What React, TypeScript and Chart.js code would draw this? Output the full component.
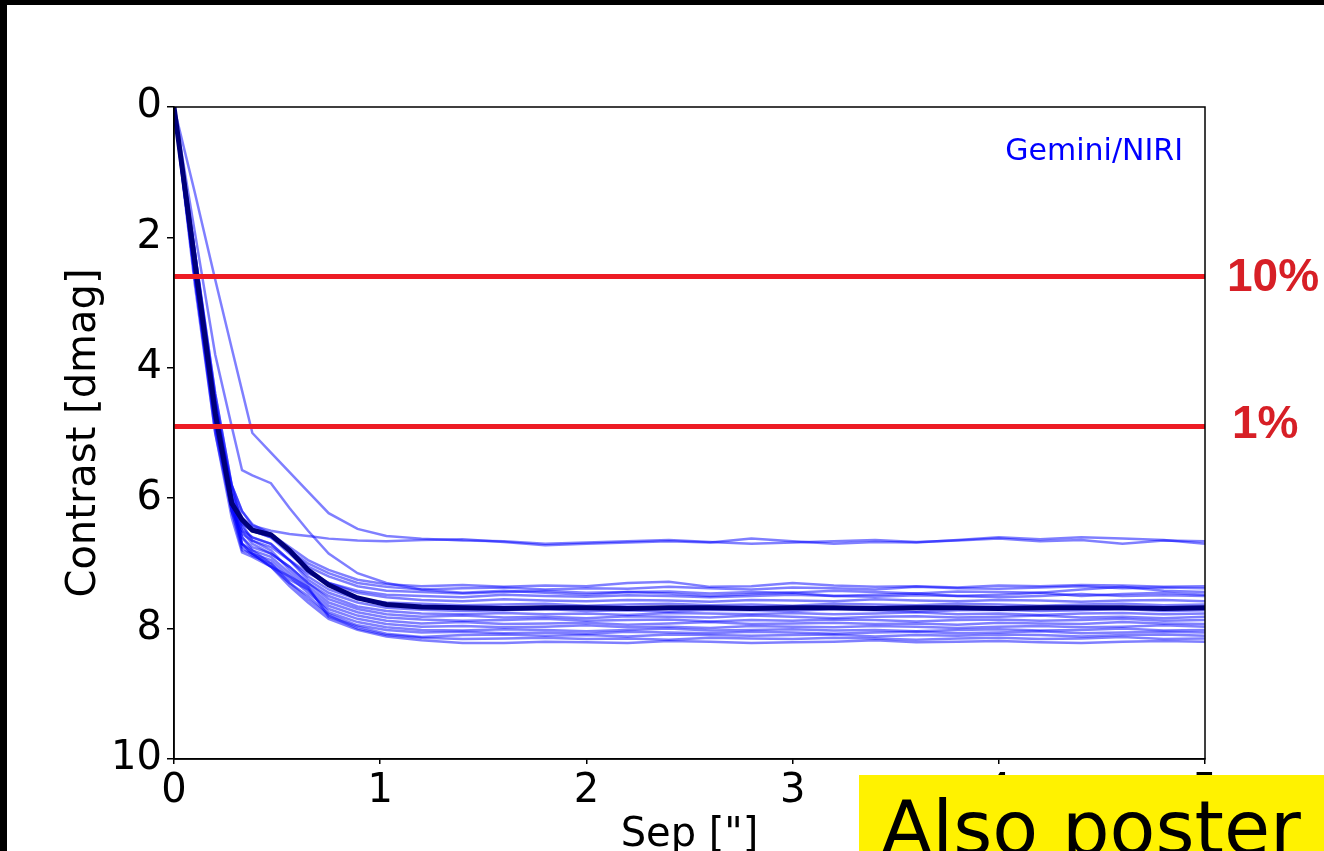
import { useEffect, useRef } from "react";
import { Chart, registerables } from "chart.js";

Chart.register(...registerables);

// Separation grid ["]
const SEP = [
  0, 0.1, 0.2, 0.28, 0.33, 0.38, 0.47, 0.56, 0.65, 0.75, 0.89, 1.03,
  1.2, 1.4, 1.6, 1.8, 2.0, 2.2, 2.4, 2.6, 2.8, 3.0,
  3.2, 3.4, 3.6, 3.8, 4.0, 4.2, 4.4, 4.6, 4.8, 5.0,
];

// Individual contrast curves [dmag]
const CURVE_SLOW = [
  0, 1.3, 2.65, 3.7, 4.35, 5.0, 5.3, 5.6, 5.9, 6.23, 6.47, 6.58,
  6.62, 6.65, 6.66, 6.7, 6.68, 6.66, 6.64, 6.67, 6.7, 6.68,
  6.66, 6.64, 6.67, 6.65, 6.62, 6.66, 6.64, 6.7, 6.65, 6.66,
];
const CURVE_FLAT = [
  0, 2.4, 4.7, 5.8, 6.2, 6.42, 6.5, 6.55, 6.58, 6.62, 6.65, 6.66,
  6.64, 6.63, 6.67, 6.72, 6.7, 6.68, 6.66, 6.68, 6.62, 6.66,
  6.7, 6.67, 6.68, 6.64, 6.6, 6.63, 6.6, 6.62, 6.64, 6.7,
];
const CURVE_KINK = [
  0, 1.9, 3.8, 4.9, 5.57, 5.65, 5.77, 6.15, 6.5, 6.85, 7.15, 7.3,
  7.4, 7.45, 7.42, 7.45, 7.48, 7.44, 7.46, 7.5, 7.47, 7.45,
  7.5, 7.48, 7.46, 7.5, 7.48, 7.45, 7.5, 7.47, 7.45, 7.48,
];
const CURVE_B01 = [
  0, 2.2, 4.4, 5.8, 6.2, 6.4, 6.55, 6.75, 6.95, 7.1, 7.25, 7.32,
  7.35, 7.33, 7.36, 7.34, 7.35, 7.3, 7.28, 7.36, 7.35, 7.3,
  7.34, 7.36, 7.35, 7.37, 7.34, 7.35, 7.33, 7.34, 7.36, 7.35,
];
const CURVE_B02 = [
  0, 2.5, 4.8, 6.0, 6.4, 6.5, 6.6, 6.8, 7.0, 7.15, 7.3, 7.36,
  7.4, 7.38, 7.37, 7.4, 7.38, 7.39, 7.36, 7.38, 7.4, 7.37,
  7.38, 7.4, 7.36, 7.38, 7.39, 7.37, 7.35, 7.38, 7.37, 7.38,
];
const CURVE_B03 = [
  0, 2.3, 4.6, 5.9, 6.3, 6.45, 6.55, 6.8, 7.05, 7.2, 7.35, 7.42,
  7.44, 7.46, 7.44, 7.42, 7.45, 7.44, 7.43, 7.46, 7.44, 7.45,
  7.42, 7.44, 7.46, 7.43, 7.44, 7.45, 7.4, 7.36, 7.42, 7.44,
];
const CURVE_B04 = [
  0, 2.6, 4.9, 6.1, 6.5, 6.6, 6.7, 6.95, 7.15, 7.3, 7.42, 7.48,
  7.5, 7.52, 7.48, 7.5, 7.51, 7.49, 7.5, 7.52, 7.5, 7.48,
  7.5, 7.51, 7.49, 7.5, 7.52, 7.5, 7.47, 7.5, 7.49, 7.5,
];
const CURVE_B05 = [
  0, 2.2, 4.5, 5.9, 6.35, 6.5, 6.6, 6.85, 7.1, 7.3, 7.45, 7.52,
  7.56, 7.58, 7.55, 7.57, 7.58, 7.56, 7.57, 7.59, 7.56, 7.57,
  7.58, 7.55, 7.57, 7.58, 7.56, 7.57, 7.59, 7.57, 7.56, 7.58,
];
const CURVE_B06 = [
  0, 2.7, 5.0, 6.2, 6.55, 6.65, 6.75, 6.95, 7.2, 7.4, 7.55, 7.6,
  7.62, 7.64, 7.63, 7.62, 7.65, 7.63, 7.62, 7.64, 7.63, 7.65,
  7.62, 7.63, 7.64, 7.62, 7.63, 7.65, 7.63, 7.62, 7.64, 7.63,
];
const CURVE_B07 = [
  0, 2.4, 4.7, 6.0, 6.45, 6.6, 6.7, 6.95, 7.25, 7.45, 7.6, 7.68,
  7.71, 7.73, 7.72, 7.7, 7.73, 7.72, 7.74, 7.71, 7.72, 7.73,
  7.7, 7.72, 7.74, 7.72, 7.71, 7.73, 7.72, 7.7, 7.73, 7.72,
];
const CURVE_B08 = [
  0, 2.3, 4.6, 6.0, 6.5, 6.7, 6.85, 7.05, 7.3, 7.5, 7.66, 7.73,
  7.77, 7.78, 7.76, 7.78, 7.77, 7.79, 7.76, 7.77, 7.78, 7.76,
  7.78, 7.77, 7.75, 7.78, 7.77, 7.79, 7.77, 7.76, 7.78, 7.77,
];
const CURVE_B09 = [
  0, 2.5, 4.8, 6.1, 6.6, 6.75, 6.85, 7.05, 7.3, 7.55, 7.7, 7.78,
  7.82, 7.8, 7.83, 7.82, 7.84, 7.81, 7.82, 7.83, 7.8, 7.82,
  7.84, 7.82, 7.81, 7.83, 7.82, 7.8, 7.83, 7.82, 7.84, 7.82,
];
const CURVE_B10 = [
  0, 2.2, 4.4, 5.8, 6.4, 6.65, 6.8, 7.1, 7.35, 7.6, 7.75, 7.83,
  7.86, 7.88, 7.87, 7.85, 7.88, 7.87, 7.86, 7.89, 7.87, 7.88,
  7.86, 7.87, 7.89, 7.87, 7.86, 7.88, 7.87, 7.85, 7.88, 7.87,
];
const CURVE_B11 = [
  0, 2.6, 4.9, 6.2, 6.7, 6.8, 6.9, 7.15, 7.4, 7.65, 7.8, 7.88,
  7.92, 7.9, 7.93, 7.92, 7.91, 7.94, 7.92, 7.9, 7.93, 7.92,
  7.91, 7.93, 7.92, 7.94, 7.91, 7.92, 7.93, 7.9, 7.92, 7.93,
];
const CURVE_B12 = [
  0, 2.4, 4.7, 6.1, 6.7, 6.85, 6.95, 7.2, 7.45, 7.7, 7.85, 7.93,
  7.97, 7.96, 7.98, 7.97, 7.95, 7.98, 7.97, 7.99, 7.96, 7.97,
  7.98, 7.96, 7.97, 7.99, 7.97, 7.96, 7.98, 7.97, 7.95, 7.97,
];
const CURVE_B13 = [
  0, 2.3, 4.6, 6.0, 6.6, 6.8, 7.0, 7.25, 7.4, 7.75, 7.9, 7.98,
  8.02, 8.03, 8.01, 8.02, 8.04, 8.02, 8.0, 8.03, 8.02, 8.01,
  8.03, 8.02, 8.04, 8.02, 8.01, 8.03, 8.02, 8.0, 8.03, 8.02,
];
const CURVE_B14 = [
  0, 2.5, 4.8, 6.2, 6.8, 6.85, 7.05, 7.3, 7.5, 7.78, 7.95, 8.02,
  8.06, 8.05, 8.07, 8.06, 8.08, 8.05, 8.06, 8.07, 8.05, 8.06,
  8.08, 8.06, 8.05, 8.07, 8.06, 8.04, 8.07, 8.06, 8.05, 8.06,
];
const CURVE_B15 = [
  0, 2.6, 5.0, 6.3, 6.83, 6.9, 7.05, 7.2, 7.36, 7.82, 7.97, 8.08,
  8.13, 8.1, 8.09, 8.11, 8.1, 8.12, 8.09, 8.1, 8.11, 8.1,
  8.09, 8.12, 8.1, 8.11, 8.09, 8.1, 8.12, 8.1, 8.09, 8.11,
];
const CURVE_B16 = [
  0, 2.4, 4.7, 6.1, 6.75, 6.88, 7.0, 7.3, 7.55, 7.8, 8.0, 8.1,
  8.14, 8.16, 8.15, 8.14, 8.16, 8.15, 8.17, 8.14, 8.15, 8.16,
  8.14, 8.15, 8.17, 8.15, 8.14, 8.16, 8.15, 8.13, 8.16, 8.15,
];
const CURVE_B17 = [
  0, 2.3, 4.5, 6.0, 6.7, 6.85, 7.05, 7.35, 7.6, 7.85, 8.02, 8.12,
  8.18, 8.22, 8.22, 8.2, 8.21, 8.22, 8.19, 8.2, 8.22, 8.21,
  8.2, 8.18, 8.21, 8.2, 8.19, 8.21, 8.22, 8.2, 8.19, 8.2,
];

// Average curve (thick)
const CURVE_MEAN = [
  0, 2.35, 4.7, 6.08, 6.33, 6.49, 6.56, 6.8, 7.1, 7.33, 7.53, 7.63,
  7.67, 7.68, 7.69, 7.68, 7.68, 7.69, 7.68, 7.68, 7.69, 7.68,
  7.68, 7.69, 7.68, 7.68, 7.69, 7.68, 7.68, 7.68, 7.69, 7.68,
];

const THIN_CURVES = [
  CURVE_SLOW, CURVE_FLAT, CURVE_KINK,
  CURVE_B01, CURVE_B02, CURVE_B03, CURVE_B04, CURVE_B05, CURVE_B06,
  CURVE_B07, CURVE_B08, CURVE_B09, CURVE_B10, CURVE_B11, CURVE_B12,
  CURVE_B13, CURVE_B14, CURVE_B15, CURVE_B16, CURVE_B17,
];

// Detection-limit lines
const LIMIT_SEP = [0, 5];
const LIMIT_10PCT = [2.6, 2.6];
const LIMIT_1PCT = [4.9, 4.9];
const LIMIT_LABELS = ["10%", "1%"];

const X_TITLE = 'Sep ["]';
const Y_TITLE = "Contrast [dmag]";
const INSTRUMENT = "Gemini/NIRI";
const POSTER_NOTE = "Also poster";

const toPoints = (xs: number[], ys: number[]) =>
  ys.map((y, i) => ({ x: xs[i], y }));

const overlayPlugin = {
  id: "overlay",
  afterDatasetsDraw(chart: any) {
    const { ctx, chartArea: a, scales } = chart;
    ctx.save();
    ctx.strokeStyle = "#000";
    ctx.lineWidth = 1.5;
    ctx.strokeRect(a.left, a.top, a.right - a.left, a.bottom - a.top);

    ctx.font = '30px "DejaVu Sans"';
    ctx.fillStyle = "#0000ff";
    ctx.textAlign = "right";
    ctx.textBaseline = "middle";
    ctx.fillText(INSTRUMENT, a.right - 22, a.top + 45);

    ctx.font = 'bold 46px "Liberation Sans"';
    ctx.fillStyle = "#d71f26";
    ctx.textAlign = "left";
    ctx.fillText(LIMIT_LABELS[0], a.right + 22, scales.y.getPixelForValue(LIMIT_10PCT[0]) + 2);
    ctx.fillText(LIMIT_LABELS[1], a.right + 27, scales.y.getPixelForValue(LIMIT_1PCT[0]) - 1);
    ctx.restore();
  },
};

export default function App() {
  const ref = useRef<HTMLCanvasElement>(null);

  useEffect(() => {
    Chart.defaults.font.family = '"DejaVu Sans"';
    const thin = THIN_CURVES.map((ys) => ({
      data: toPoints(SEP, ys),
      borderColor: "rgba(0,0,255,0.5)",
      borderWidth: 2.5,
      pointRadius: 0,
      fill: false,
      tension: 0,
      order: 2,
    }));
    const chart = new Chart(ref.current!, {
      type: "line",
      data: {
        datasets: [
          {
            data: toPoints(LIMIT_SEP, LIMIT_10PCT),
            borderColor: "#ed1c24",
            borderWidth: 5,
            pointRadius: 0,
            order: -1,
          },
          {
            data: toPoints(LIMIT_SEP, LIMIT_1PCT),
            borderColor: "#ed1c24",
            borderWidth: 5,
            pointRadius: 0,
            order: -1,
          },
          {
            data: toPoints(SEP, CURVE_MEAN),
            borderColor: "#00007a",
            borderWidth: 5,
            pointRadius: 0,
            tension: 0,
            order: 0,
          },
          ...thin,
        ],
      },
      options: {
        animation: false,
        responsive: false,
        devicePixelRatio: 1,
        layout: { padding: { left: 61, top: 107, right: 119, bottom: 0 } },
        plugins: { legend: { display: false }, tooltip: { enabled: false } },
        scales: {
          x: {
            type: "linear",
            min: 0,
            max: 5,
            afterFit: (s: any) => {
              s.height = 141;
            },
            ticks: { stepSize: 1, font: { size: 40 }, color: "#000", padding: 4, maxRotation: 0 },
            grid: { drawOnChartArea: false, tickLength: 5, color: "#000", lineWidth: 1.5 },
            border: { color: "#000", width: 1.5 },
            title: {
              display: true,
              text: X_TITLE,
              font: { size: 40 },
              color: "#000",
              padding: { top: 0, bottom: 40 },
            },
          },
          y: {
            type: "linear",
            min: 0,
            max: 10,
            reverse: true,
            afterFit: (s: any) => {
              s.width = 113;
            },
            ticks: { stepSize: 2, font: { size: 40 }, color: "#000", padding: 5 },
            grid: { drawOnChartArea: false, tickLength: 7, color: "#000", lineWidth: 1.5 },
            border: { color: "#000", width: 1.5 },
            title: {
              display: true,
              text: Y_TITLE,
              font: { size: 40 },
              color: "#000",
              padding: { top: 0, bottom: 0 },
            },
          },
        },
      },
      plugins: [overlayPlugin],
    });
    return () => chart.destroy();
  }, []);

  return (
    <div
      style={{
        position: "absolute",
        left: 0,
        top: 0,
        width: 1324,
        height: 851,
        overflow: "hidden",
        background: "#000",
      }}
    >
      <div style={{ position: "absolute", left: 7, top: 5, right: 0, bottom: 0, background: "#fff" }} />
      <canvas
        ref={ref}
        width={1324}
        height={900}
        style={{ position: "absolute", left: 0, top: 0, width: 1324, height: 900 }}
      />
      <div
        style={{
          position: "absolute",
          left: 859,
          top: 775,
          width: 465,
          height: 90,
          background: "#fff200",
        }}
      >
        <div
          style={{
            position: "absolute",
            left: 22,
            top: 16,
            fontFamily: '"DejaVu Sans"',
            fontSize: 75,
            lineHeight: "75px",
            color: "#000",
            whiteSpace: "nowrap",
          }}
        >
          {POSTER_NOTE}
        </div>
      </div>
    </div>
  );
}
